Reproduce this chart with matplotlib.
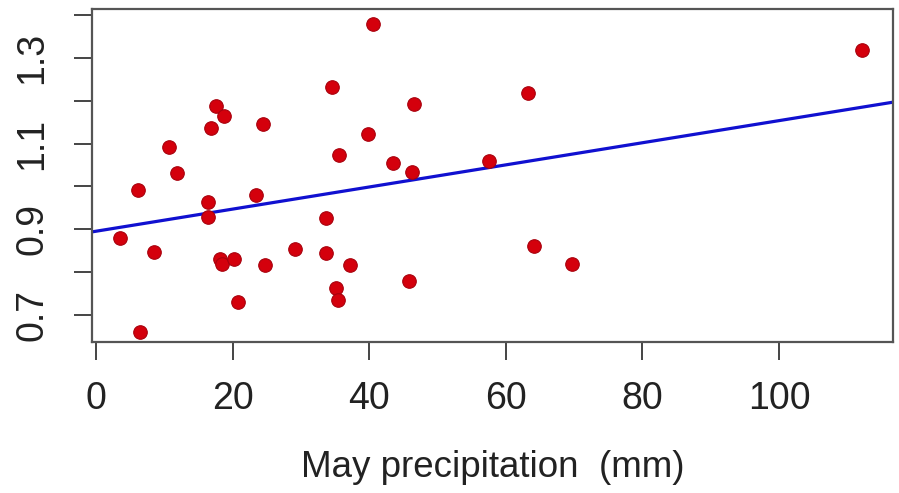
import numpy as np
import matplotlib
matplotlib.use("Agg")
import matplotlib.pyplot as plt

plt.rcParams["font.family"] = ["Liberation Sans", "DejaVu Sans"]

# May precipitation (mm) and the response value for each year
precip = [40.5, 34.5, 17.5, 18.7, 16.8, 24.5, 39.8, 10.7, 35.5, 11.8,
          6.2, 16.4, 23.4, 16.4, 33.7, 3.5, 8.5, 18.1, 18.5, 20.2,
          24.8, 29.1, 33.7, 37.2, 35.2, 35.4, 20.8, 6.4, 46.6, 63.3,
          43.5, 46.2, 57.6, 45.8, 64.2, 69.7, 112.2]
response = [1.378, 1.233, 1.188, 1.164, 1.137, 1.146, 1.123, 1.091, 1.073, 1.032,
            0.991, 0.963, 0.981, 0.929, 0.926, 0.880, 0.848, 0.830, 0.820, 0.830,
            0.816, 0.853, 0.845, 0.816, 0.762, 0.735, 0.730, 0.660, 1.192, 1.219,
            1.055, 1.033, 1.060, 0.780, 0.862, 0.820, 1.319]

# fitted line: intercept and slope
intercept = 0.8955
slope = 0.00258

x_ticks = [0, 20, 40, 60, 80, 100]
y_ticks = [0.7, 0.8, 0.9, 1.0, 1.1, 1.2, 1.3, 1.4]
y_labels = ["0.7", "", "0.9", "", "1.1", "", "1.3", ""]

W, H = 899, 493
fig = plt.figure(figsize=(W / 100, H / 100), dpi=100)
ax = fig.add_axes([92 / W, (H - 342) / H, (893 - 92) / W, (342 - 9) / H])

ax.scatter(precip, response, s=95, color="#d4000c", edgecolors="#a8000c",
           linewidths=0.8, zorder=3)

xlim = (-0.6, 116.7)
xs = np.array(xlim)
ax.plot(xs, intercept + slope * xs, color="#1010d0", lw=2.3, zorder=2)

ax.set_xlim(*xlim)
ax.set_ylim(0.637, 1.414)

ax.set_xticks(x_ticks)
ax.set_xticklabels([str(v) for v in x_ticks])
ax.set_yticks(y_ticks)
ax.set_yticklabels(y_labels, rotation=90, va="center")

ax.tick_params(axis="both", direction="out", length=13, width=1.4,
               color="#444444", labelsize=27, labelcolor="#222222")
ax.tick_params(axis="x", pad=15)
ax.tick_params(axis="y", pad=17)

for sp in ax.spines.values():
    sp.set_color("#555555")
    sp.set_linewidth(1.6)

ax.set_xlabel("May precipitation  (mm)", fontsize=26.5, color="#222222", labelpad=24)

fig.savefig("out.png", dpi=100)
